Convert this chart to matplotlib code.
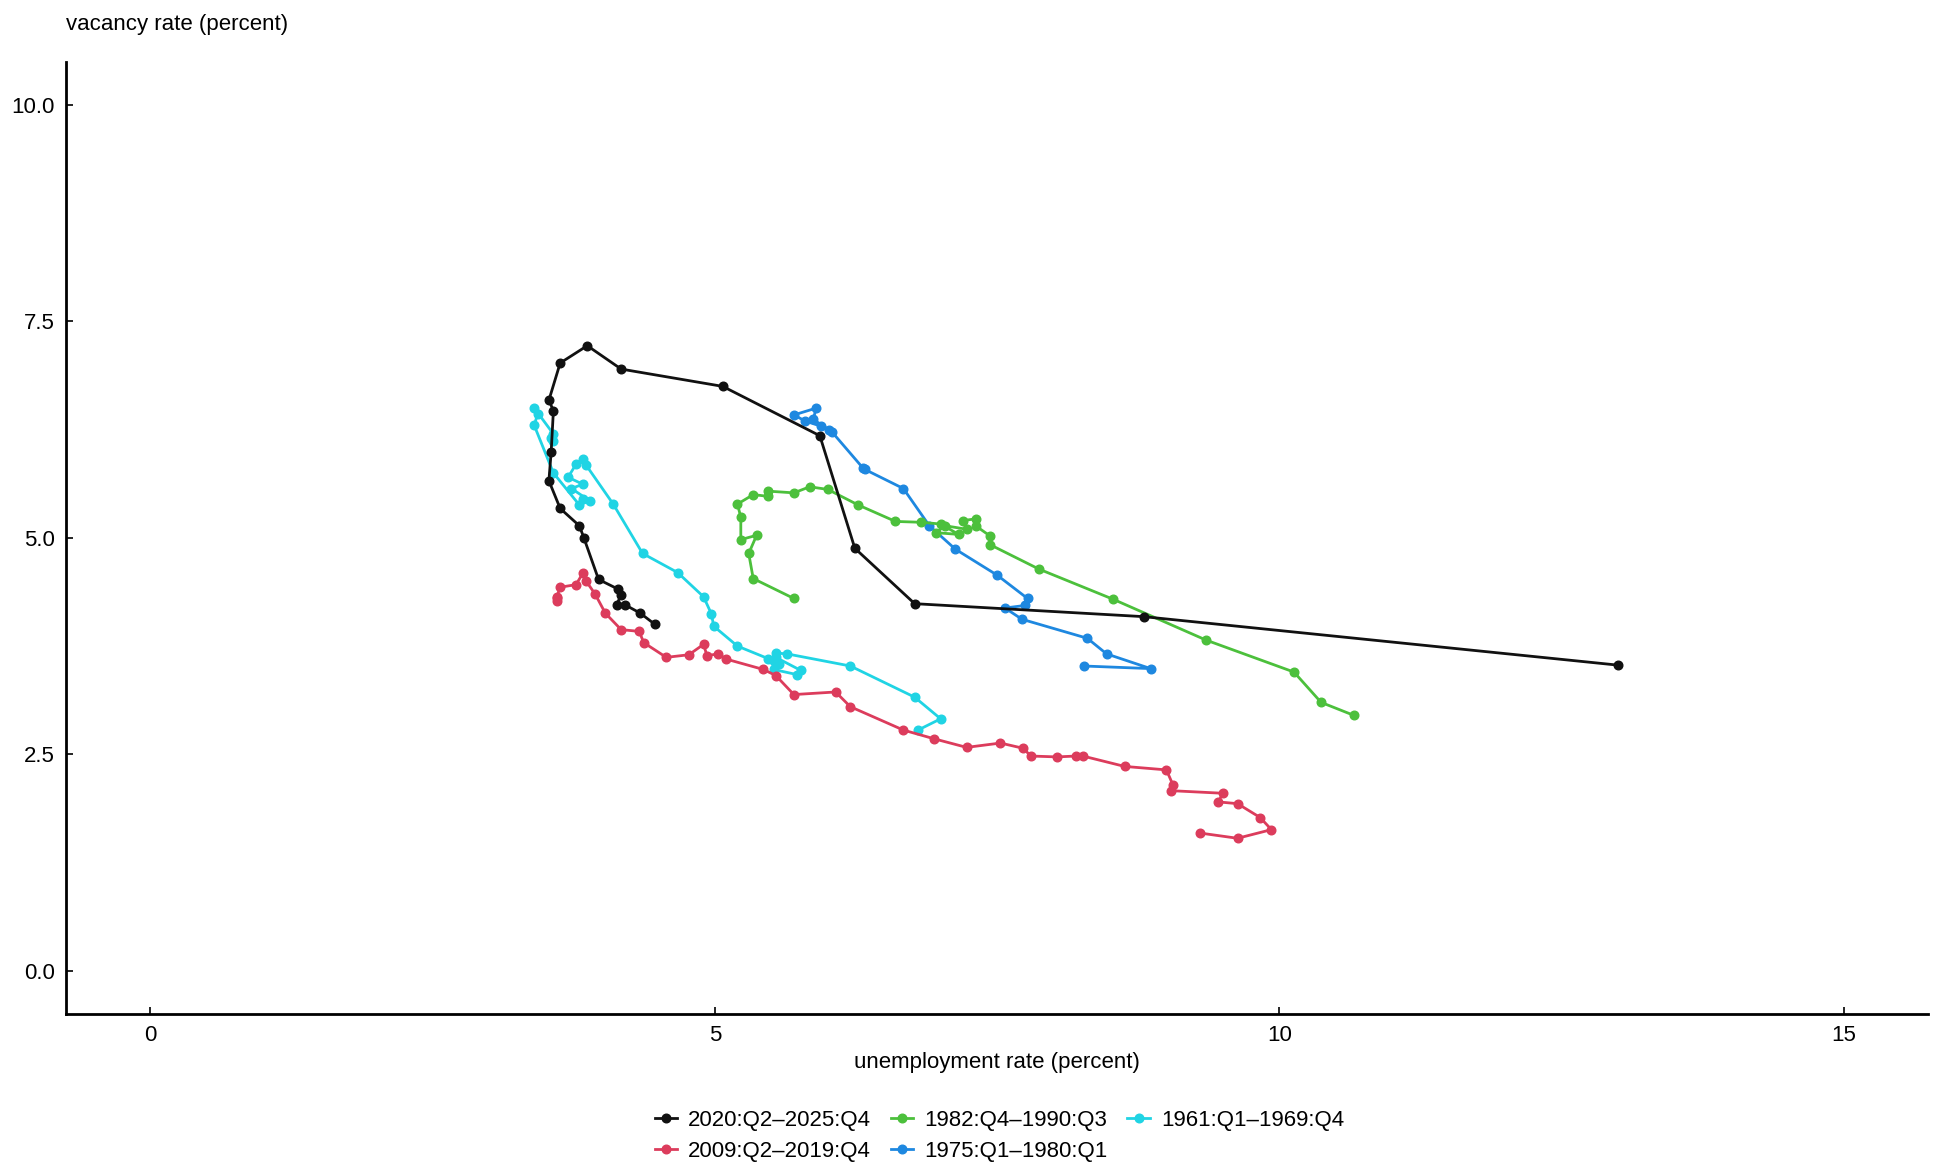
import matplotlib
matplotlib.use("Agg")
import matplotlib.pyplot as plt

plt.rcParams['font.family'] = ['Liberation Sans', 'DejaVu Sans']

# unemployment rate (x) / vacancy rate (y), quarterly
x_2020 = [13.0, 8.80, 6.77, 6.24, 5.93, 5.07, 4.17, 3.87, 3.63, 3.53, 3.57, 3.55,
          3.53, 3.63, 3.80, 3.84, 3.97, 4.14, 4.17, 4.13, 4.20, 4.34, 4.47]
y_2020 = [3.53, 4.09, 4.24, 4.88, 6.18, 6.75, 6.95, 7.22, 7.02, 6.59, 6.47, 5.99,
          5.66, 5.34, 5.14, 5.00, 4.52, 4.41, 4.34, 4.23, 4.23, 4.13, 4.00]

x_2009 = [9.30, 9.63, 9.93, 9.83, 9.63, 9.46, 9.50, 9.04, 9.06, 9.00, 8.63,
          8.26, 8.20, 8.03, 7.80, 7.73, 7.53, 7.23, 6.94, 6.67, 6.20, 6.07,
          5.70, 5.54, 5.43, 5.10, 5.03, 4.93, 4.90, 4.77, 4.57, 4.37, 4.33,
          4.17, 4.03, 3.94, 3.86, 3.83, 3.77, 3.63, 3.60, 3.60, 3.60]
y_2009 = [1.59, 1.53, 1.63, 1.77, 1.93, 1.95, 2.05, 2.08, 2.14, 2.32, 2.36,
          2.48, 2.48, 2.47, 2.48, 2.57, 2.63, 2.58, 2.68, 2.78, 3.05, 3.22,
          3.19, 3.41, 3.48, 3.60, 3.66, 3.64, 3.77, 3.65, 3.62, 3.79, 3.92,
          3.94, 4.13, 4.35, 4.50, 4.59, 4.46, 4.43, 4.32, 4.30, 4.27]

x_1982 = [10.66, 10.37, 10.13, 9.35, 8.53, 7.87, 7.44, 7.44, 7.31, 7.31, 7.20,
          7.23, 7.04, 6.96, 7.16, 7.00, 6.83, 6.60, 6.27, 6.00, 5.84, 5.70,
          5.47, 5.47, 5.34, 5.20, 5.23, 5.23, 5.37, 5.30, 5.34, 5.70]
y_1982 = [2.95, 3.10, 3.45, 3.82, 4.29, 4.64, 4.92, 5.02, 5.14, 5.22, 5.20,
          5.10, 5.14, 5.06, 5.04, 5.16, 5.18, 5.19, 5.38, 5.56, 5.59, 5.52,
          5.54, 5.48, 5.50, 5.39, 5.24, 4.98, 5.03, 4.82, 4.53, 4.30]

x_1975 = [8.27, 8.86, 8.47, 8.30, 7.72, 7.57, 7.75, 7.77, 7.50, 7.13, 6.90,
          6.67, 6.33, 6.31, 6.04, 6.01, 5.87, 5.90, 5.70, 5.80, 5.94]
y_1975 = [3.52, 3.49, 3.66, 3.84, 4.06, 4.19, 4.22, 4.30, 4.57, 4.87, 5.14,
          5.57, 5.79, 5.81, 6.22, 6.25, 6.37, 6.50, 6.42, 6.35, 6.29]

x_1961 = [6.80, 7.00, 6.77, 6.20, 5.64, 5.54, 5.57, 5.52, 5.73, 5.76, 5.54, 5.47,
          5.52, 5.20, 4.99, 4.97, 4.90, 4.67, 4.36, 4.10, 3.86, 3.83, 3.77, 3.70,
          3.83, 3.73, 3.89, 3.83, 3.80, 3.57, 3.40, 3.43, 3.40, 3.57, 3.57, 3.55]
y_1961 = [2.78, 2.91, 3.16, 3.52, 3.66, 3.67, 3.54, 3.48, 3.42, 3.47, 3.62, 3.60,
          3.58, 3.75, 3.98, 4.12, 4.32, 4.60, 4.82, 5.39, 5.84, 5.91, 5.85, 5.70,
          5.62, 5.57, 5.43, 5.45, 5.38, 5.75, 6.30, 6.43, 6.50, 6.20, 6.12, 6.15]

labels = ["2020:Q2\u20132025:Q4", "2009:Q2\u20132019:Q4", "1982:Q4\u20131990:Q3",
          "1975:Q1\u20131980:Q1", "1961:Q1\u20131969:Q4"]
colors = ["#111111", "#DC3C5C", "#4CC03C", "#1E88E0", "#20D4E4"]

series = [(x_2020, y_2020), (x_2009, y_2009), (x_1982, y_1982),
          (x_1975, y_1975), (x_1961, y_1961)]

fig = plt.figure(figsize=(19.44, 11.65), dpi=100)
ax = fig.add_axes([0.0338, 0.1296, 0.9582, 0.8174])

zorders = [6, 3, 5, 4, 2]
for (xs, ys), lab, col, z in zip(series, labels, colors, zorders):
    ax.plot(xs, ys, '-o', color=col, lw=2.0, ms=6.2, label=lab, zorder=z)

ax.set_xlim(-0.75, 15.75)
ax.set_ylim(-0.5, 10.5)
ax.set_xticks([0, 5, 10, 15])
ax.set_yticks([0.0, 2.5, 5.0, 7.5, 10.0])
ax.set_yticklabels(["0.0", "2.5", "5.0", "7.5", "10.0"])
ax.tick_params(direction='in', length=5, width=1.2, labelsize=16, pad=8)

for side in ['top', 'right']:
    ax.spines[side].set_visible(False)
for side in ['left', 'bottom']:
    ax.spines[side].set_linewidth(2)

ax.set_xlabel("unemployment rate (percent)", fontsize=16, labelpad=4)
fig.text(0.034, 0.979, "vacancy rate (percent)", fontsize=16, ha='left', va='center')

handles, labs = ax.get_legend_handles_labels()
fig.legend(handles, labs, loc='center', bbox_to_anchor=(0.514, 0.025), ncol=3,
           frameon=False, fontsize=16, handlelength=1.0, columnspacing=0.9,
           handletextpad=0.5, labelspacing=0.45)

fig.savefig("out.png", dpi=100)
